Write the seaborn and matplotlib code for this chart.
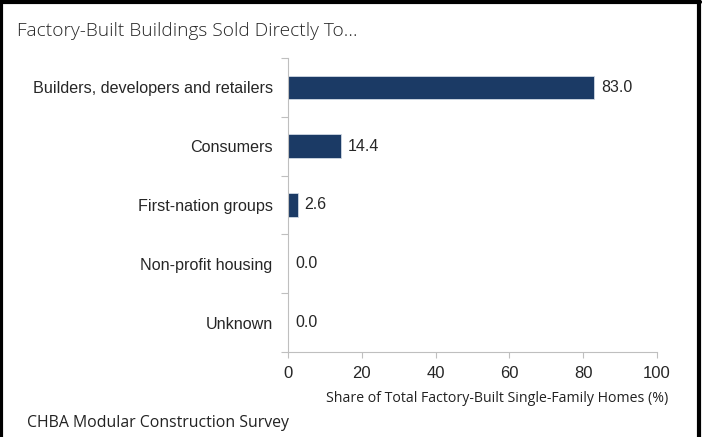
import matplotlib
matplotlib.use('Agg')
import matplotlib.pyplot as plt
import seaborn as sns
import pandas as pd
from matplotlib.lines import Line2D
from matplotlib.ticker import FixedLocator

# chart data
categories = ['Builders, developers and retailers', 'Consumers', 'First-nation groups',
              'Non-profit housing', 'Unknown']
shares = [83.0, 14.4, 2.6, 0.0, 0.0]
x_ticks = [0, 20, 40, 60, 80, 100]

df = pd.DataFrame({'category': categories, 'share': shares})

sns.set_style('white')
plt.rcParams['font.family'] = ['Liberation Sans', 'DejaVu Sans']

fig = plt.figure(figsize=(7.03, 4.37), dpi=100)
ax = fig.add_axes([0.4097, 0.1945, 0.5249, 0.6728])

sns.barplot(data=df, x='share', y='category', orient='h', color='#1b3a65',
            width=0.4, edgecolor='#d0d8e4', linewidth=0.6, saturation=1, ax=ax)

ax.set_xlim(0, 100)
ax.set_ylim(len(categories) - 0.5, -0.5)
ax.set_xticks(x_ticks)
ax.set_xticklabels([str(t) for t in x_ticks], fontsize=12)
ax.yaxis.set_minor_locator(FixedLocator([i - 0.5 for i in range(len(categories) + 1)]))
ax.tick_params(axis='y', which='major', length=0, pad=11, labelsize=11.6)
ax.tick_params(axis='y', which='minor', length=5, width=0.8, color='#bfbfbf', left=True)
ax.tick_params(axis='x', length=4, width=0.8, color='#bfbfbf', bottom=True, pad=6)

for side in ['top', 'right']:
    ax.spines[side].set_visible(False)
for side in ['left', 'bottom']:
    ax.spines[side].set_color('#bfbfbf')
    ax.spines[side].set_linewidth(0.8)

ax.set_ylabel('')
ax.set_xlabel('')
ax.bar_label(ax.containers[0], fmt='%.1f', padding=5, fontsize=11.5)

# text in Segoe-like face
fig.text(0.024, 0.93, 'Factory-Built Buildings Sold Directly To…', fontsize=13.8,
         family='Open Sans', fontweight='light', va='center', ha='left')
fig.text(0.95, 0.087, 'Share of Total Factory-Built Single-Family Homes (%)', fontsize=10.2,
         family='Open Sans', va='center', ha='right', color='#222222')
fig.text(0.038, 0.032, 'CHBA Modular Construction Survey', fontsize=11.4,
         family='Open Sans', va='center', ha='left', color='#222222')

# black frame on left, top and right
fig.add_artist(Line2D([0.002, 0.002], [0, 1], color='black', lw=3, transform=fig.transFigure))
fig.add_artist(Line2D([0, 0.996], [0.996, 0.996], color='black', lw=3, transform=fig.transFigure))
fig.add_artist(Line2D([0.9945, 0.9945], [0, 1], color='black', lw=3, transform=fig.transFigure))

fig.savefig('out.png', dpi=100)
